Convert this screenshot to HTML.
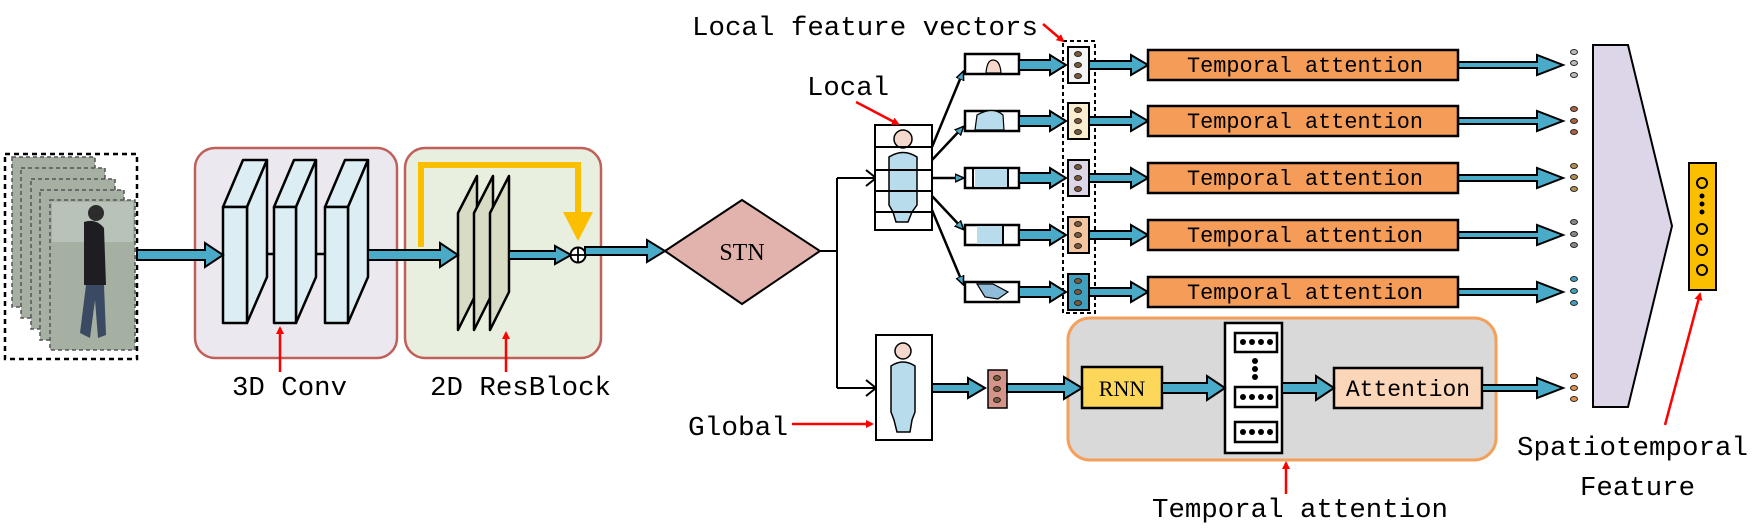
<!DOCTYPE html>
<html><head><meta charset="utf-8"><style>html,body{margin:0;padding:0;background:#fff}svg{display:block}</style></head>
<body>
<svg width="1762" height="530" viewBox="0 0 1762 530" xmlns="http://www.w3.org/2000/svg" font-family="'Liberation Mono', monospace">
<defs>
<marker id="ra" markerWidth="8" markerHeight="8" refX="6" refY="4" orient="auto" markerUnits="userSpaceOnUse"><path d="M0,0 L8,4 L0,8 z" fill="#f00"/></marker>
<marker id="ba" markerWidth="10" markerHeight="10" refX="8" refY="5" orient="auto" markerUnits="userSpaceOnUse"><path d="M0,1 L9,5 L0,9 z" fill="#4aabc8" stroke="#000" stroke-width="1.5"/></marker>
</defs>

<!-- input frames -->
<rect x="5" y="154" width="132" height="205" fill="#fff" stroke="#000" stroke-width="2.5" stroke-dasharray="5,4"/>
<g stroke="#555" stroke-width="1.5" stroke-dasharray="4,3" fill="#a5b0a2">
<rect x="12" y="157" width="83" height="150"/>
<rect x="21" y="168" width="84" height="150"/>
<rect x="31" y="179" width="84" height="150"/>
<rect x="40" y="190" width="84" height="150"/>
<rect x="50" y="200" width="85" height="150"/>
</g>
<rect x="52" y="202" width="81" height="40" fill="#b8c2b8"/>
<circle cx="96" cy="213" r="8" fill="#2c2c2c"/>
<path d="M84,222 Q96,218 104,228 L106,285 L84,285 Z" fill="#1e1e22"/>
<path d="M86,285 L104,285 L106,335 L98,338 L95,300 L90,338 L80,333 Z" fill="#3a4a62"/>

<!-- 3D conv -->
<rect x="195" y="148" width="202" height="210" rx="20" fill="#ece8f0" stroke="#c0605a" stroke-width="2.5"/>
<g stroke="#000" stroke-width="2.5" fill="#dcedf4" stroke-linejoin="round">
<line x1="247" y1="254" x2="274" y2="254"/><line x1="296" y1="254" x2="325" y2="254"/>
<polygon points="223,207 243,160 267,160 247,207"/><polygon points="247,207 267,160 267,277 247,323"/><rect x="223" y="207" width="24" height="116"/>
<polygon points="274,207 294,160 316,160 296,207"/><polygon points="296,207 316,160 316,277 296,323"/><rect x="274" y="207" width="22" height="116"/>
<polygon points="325,207 345,160 368,160 348,207"/><polygon points="348,207 368,160 368,277 348,323"/><rect x="325" y="207" width="23" height="116"/>
</g>

<!-- 2D resblock -->
<rect x="405" y="148" width="196" height="210" rx="20" fill="#e8efde" stroke="#c0605a" stroke-width="2.5"/>
<path d="M421,247 L421,165 L578,165 L578,215" fill="none" stroke="#fcbf00" stroke-width="6"/>
<polygon points="563,212 593,212 578,241" fill="#fcbf00"/>
<g stroke="#000" stroke-width="2.5" fill="#d8dcc4" stroke-linejoin="round">
<polygon points="458,330 458,213 477,176 477,292"/>
<polygon points="474,330 474,213 493,176 493,292"/>
<polygon points="490,330 490,213 509,176 509,292"/>
</g>
<circle cx="578" cy="255" r="7.5" fill="#fff" stroke="#000" stroke-width="2"/>
<line x1="578" y1="248" x2="578" y2="262" stroke="#000" stroke-width="1.8"/><line x1="571" y1="255" x2="585" y2="255" stroke="#000" stroke-width="1.8"/>

<!-- main blue arrows -->
<g fill="#4aabc8" stroke="#000" stroke-width="2" stroke-linejoin="miter">
<polygon points="137,250 205,250 205,243 223,255 205,267 205,260 137,260"/>
<polygon points="368,250 440,250 440,243 458,255 440,267 440,260 368,260"/>
<polygon points="509,251 555,251 555,246 571,255 555,264 555,259 509,259"/>
<polygon points="585,247 647,247 647,240 665,251 647,262 647,255 585,255"/>
</g>

<!-- STN -->
<polygon points="665,251 742,200 820,251 742,304" fill="#e2b2ad" stroke="#000" stroke-width="2"/>
<text x="742" y="260" font-family="'Liberation Serif', serif" font-size="24" text-anchor="middle">STN</text>
<g stroke="#000" stroke-width="2" fill="none">
<path d="M820,251 L837,251 M837,178 L837,388 M837,178 L875,178 M837,388 L875,388"/>
<path d="M866,170 L876,178 L866,186 M866,380 L876,388 L866,396"/>
</g>

<!-- local person box -->
<rect x="875" y="125" width="57" height="105" fill="#fff" stroke="#000" stroke-width="2"/>
<circle cx="903" cy="139" r="9" fill="#f5d8cc" stroke="#000" stroke-width="1.5"/>
<path d="M889,157 Q903,148 917,157 L917,205 L912,212 L908,222 L896,222 L893,212 L889,205 Z" fill="#b8dcec" stroke="#000" stroke-width="1.5"/>
<g stroke="#000" stroke-width="2"><line x1="875" y1="147" x2="932" y2="147"/><line x1="875" y1="170" x2="932" y2="170"/><line x1="875" y1="191" x2="932" y2="191"/><line x1="875" y1="212" x2="932" y2="212"/></g>

<!-- global person box -->
<rect x="876" y="335" width="56" height="105" fill="#fff" stroke="#000" stroke-width="2"/>
<circle cx="903" cy="351" r="8" fill="#f5d8cc" stroke="#000" stroke-width="1.5"/>
<path d="M891,366 Q903,358 915,366 L915,412 L912,420 L910,432 L897,432 L894,420 L891,412 Z" fill="#b8dcec" stroke="#000" stroke-width="1.5"/>

<!-- branch lines to parts -->
<g stroke="#000" stroke-width="2.5" marker-end="url(#ba)">
<line x1="932" y1="147" x2="963" y2="72"/>
<line x1="932" y1="160" x2="963" y2="127"/>
<line x1="932" y1="178" x2="963" y2="178"/>
<line x1="932" y1="196" x2="963" y2="229"/>
<line x1="932" y1="210" x2="963" y2="284"/>
</g>

<!-- part boxes -->
<g stroke="#000" stroke-width="2.5" fill="#fff">
<rect x="965" y="54" width="54" height="20"/><rect x="965" y="111" width="54" height="20"/><rect x="965" y="168" width="54" height="20"/><rect x="965" y="225" width="54" height="20"/><rect x="965" y="282" width="54" height="20"/>
</g>
<path d="M986,73 Q987,60 993,60 Q1000,60 1001,73 Z" fill="#f5d8cc" stroke="#000" stroke-width="1.2"/>
<path d="M975,130 L977,115 Q993,106 1003,115 L1004,130 Z" fill="#b8dcec" stroke="#000" stroke-width="1.2"/>
<rect x="975" y="169" width="32" height="18" fill="#b8dcec"/><line x1="973" y1="168" x2="973" y2="188" stroke="#000" stroke-width="2"/><line x1="1008" y1="168" x2="1008" y2="188" stroke="#000" stroke-width="2"/>
<rect x="977" y="226" width="25" height="18" fill="#b8dcec"/><line x1="1003" y1="225" x2="1003" y2="245" stroke="#000" stroke-width="2"/>
<path d="M977,284 L993,284 L1008,292 L998,299 L985,297 Z" fill="#8fbcd8" stroke="#000" stroke-width="1.2"/>

<!-- feature vectors -->
<rect x="1063" y="41" width="32" height="272" fill="none" stroke="#000" stroke-width="2" stroke-dasharray="4,3"/>
<g stroke="#000" stroke-width="2">
<rect x="1068" y="47" width="21" height="36" fill="#f4f4f4"/>
<rect x="1068" y="103" width="21" height="36" fill="#fbeed0"/>
<rect x="1068" y="160" width="21" height="36" fill="#dcd6e6"/>
<rect x="1068" y="217" width="21" height="36" fill="#f4c6a0"/>
<rect x="1068" y="274" width="21" height="36" fill="#3fa0bf"/>
</g>
<g fill="#7a5a3a" stroke="#222" stroke-width="1">
<ellipse cx="1078" cy="54" rx="3.5" ry="2.5"/><ellipse cx="1078" cy="65" rx="3.5" ry="2.5"/><ellipse cx="1078" cy="76" rx="3.5" ry="2.5"/>
<ellipse cx="1078" cy="110" rx="3.5" ry="2.5"/><ellipse cx="1078" cy="121" rx="3.5" ry="2.5"/><ellipse cx="1078" cy="132" rx="3.5" ry="2.5"/>
<ellipse cx="1078" cy="167" rx="3.5" ry="2.5"/><ellipse cx="1078" cy="178" rx="3.5" ry="2.5"/><ellipse cx="1078" cy="189" rx="3.5" ry="2.5"/>
<ellipse cx="1078" cy="224" rx="3.5" ry="2.5"/><ellipse cx="1078" cy="235" rx="3.5" ry="2.5"/><ellipse cx="1078" cy="246" rx="3.5" ry="2.5"/>
<ellipse cx="1078" cy="281" rx="3.5" ry="2.5"/><ellipse cx="1078" cy="292" rx="3.5" ry="2.5"/><ellipse cx="1078" cy="303" rx="3.5" ry="2.5"/>
</g>

<!-- row arrows -->
<g fill="#4aabc8" stroke="#000" stroke-width="2">
<polygon points="1019,60 1050,60 1050,55 1066,65 1050,75 1050,70 1019,70"/>
<polygon points="1019,116 1050,116 1050,111 1066,121 1050,131 1050,126 1019,126"/>
<polygon points="1019,173 1050,173 1050,168 1066,178 1050,188 1050,183 1019,183"/>
<polygon points="1019,230 1050,230 1050,225 1066,235 1050,245 1050,240 1019,240"/>
<polygon points="1019,287 1050,287 1050,282 1066,292 1050,302 1050,297 1019,297"/>
<polygon points="1089,61 1131,61 1131,55 1148,65 1131,75 1131,69 1089,69"/>
<polygon points="1089,117 1131,117 1131,111 1148,121 1131,131 1131,125 1089,125"/>
<polygon points="1089,174 1131,174 1131,168 1148,178 1131,188 1131,182 1089,182"/>
<polygon points="1089,231 1131,231 1131,225 1148,235 1131,245 1131,239 1089,239"/>
<polygon points="1089,288 1131,288 1131,282 1148,292 1131,302 1131,296 1089,296"/>
<polygon points="1458,62 1537,62 1537,55 1563,65 1537,75 1537,68 1458,68"/>
<polygon points="1458,118 1537,118 1537,111 1563,121 1537,131 1537,124 1458,124"/>
<polygon points="1458,175 1537,175 1537,168 1563,178 1537,188 1537,181 1458,181"/>
<polygon points="1458,232 1537,232 1537,225 1563,235 1537,245 1537,238 1458,238"/>
<polygon points="1458,289 1537,289 1537,282 1563,292 1537,302 1537,295 1458,295"/>
</g>

<!-- temporal attention boxes -->
<g fill="#f49c58" stroke="#000" stroke-width="2.5">
<rect x="1148" y="50" width="310" height="30"/><rect x="1148" y="106" width="310" height="30"/><rect x="1148" y="163" width="310" height="30"/><rect x="1148" y="220" width="310" height="30"/><rect x="1148" y="277" width="310" height="30"/>
</g>
<g font-size="22" text-anchor="start">
<text x="1187" y="72" textLength="236" lengthAdjust="spacingAndGlyphs">Temporal attention</text>
<text x="1187" y="128" textLength="236" lengthAdjust="spacingAndGlyphs">Temporal attention</text>
<text x="1187" y="185" textLength="236" lengthAdjust="spacingAndGlyphs">Temporal attention</text>
<text x="1187" y="242" textLength="236" lengthAdjust="spacingAndGlyphs">Temporal attention</text>
<text x="1187" y="299" textLength="236" lengthAdjust="spacingAndGlyphs">Temporal attention</text>
</g>

<!-- temporal attention module -->
<rect x="1068" y="318" width="428" height="142" rx="22" fill="#d9d9d9" stroke="#f4a05a" stroke-width="3"/>
<rect x="988" y="370" width="19" height="38" fill="#d4948a" stroke="#000" stroke-width="1.5"/>
<g fill="#7a5a3a" stroke="#222" stroke-width="1"><ellipse cx="997" cy="378" rx="3.5" ry="2.5"/><ellipse cx="997" cy="389" rx="3.5" ry="2.5"/><ellipse cx="997" cy="400" rx="3.5" ry="2.5"/></g>
<rect x="1082" y="367" width="80" height="41" fill="#fcd75a" stroke="#000" stroke-width="2.5"/>
<text x="1122" y="396" font-family="'Liberation Serif', serif" font-size="22" text-anchor="middle">RNN</text>
<rect x="1225" y="323" width="57" height="130" fill="#fff" stroke="#000" stroke-width="2.5"/>
<g fill="#fff" stroke="#000" stroke-width="2.5"><rect x="1235" y="333" width="42" height="19"/><rect x="1235" y="387" width="42" height="20"/><rect x="1235" y="422" width="42" height="20"/></g>
<g fill="#000">
<circle cx="1243" cy="342" r="3"/><circle cx="1252" cy="342" r="3"/><circle cx="1261" cy="342" r="3"/><circle cx="1270" cy="342" r="3"/>
<circle cx="1243" cy="397" r="3"/><circle cx="1252" cy="397" r="3"/><circle cx="1261" cy="397" r="3"/><circle cx="1270" cy="397" r="3"/>
<circle cx="1243" cy="432" r="3"/><circle cx="1252" cy="432" r="3"/><circle cx="1261" cy="432" r="3"/><circle cx="1270" cy="432" r="3"/>
<circle cx="1255" cy="361" r="3"/><circle cx="1255" cy="369" r="3"/><circle cx="1255" cy="377" r="3"/>
</g>
<rect x="1334" y="368" width="148" height="40" fill="#fbd6b8" stroke="#000" stroke-width="2.5"/>
<text x="1408" y="396" font-size="23" text-anchor="middle">Attention</text>
<g fill="#4aabc8" stroke="#000" stroke-width="2">
<polygon points="932,384 968,384 968,378 985,388 968,398 968,392 932,392"/>
<polygon points="1007,384 1064,384 1064,377 1082,388 1064,399 1064,392 1007,392"/>
<polygon points="1162,383 1207,383 1207,376 1225,388 1207,400 1207,393 1162,393"/>
<polygon points="1282,383 1316,383 1316,376 1334,388 1316,400 1316,393 1282,393"/>
<polygon points="1482,385 1537,385 1537,378 1563,388 1537,398 1537,391 1482,391"/>
</g>

<!-- output dots -->
<g stroke="#222" stroke-width="1">
<g fill="#bbb"><ellipse cx="1574" cy="52" rx="3.5" ry="2.5"/><ellipse cx="1574" cy="63" rx="3.5" ry="2.5"/><ellipse cx="1574" cy="75" rx="3.5" ry="2.5"/></g>
<g fill="#b06040"><ellipse cx="1574" cy="109" rx="3.5" ry="2.5"/><ellipse cx="1574" cy="121" rx="3.5" ry="2.5"/><ellipse cx="1574" cy="132" rx="3.5" ry="2.5"/></g>
<g fill="#b09050"><ellipse cx="1574" cy="166" rx="3.5" ry="2.5"/><ellipse cx="1574" cy="177" rx="3.5" ry="2.5"/><ellipse cx="1574" cy="189" rx="3.5" ry="2.5"/></g>
<g fill="#888"><ellipse cx="1574" cy="222" rx="3.5" ry="2.5"/><ellipse cx="1574" cy="234" rx="3.5" ry="2.5"/><ellipse cx="1574" cy="245" rx="3.5" ry="2.5"/></g>
<g fill="#3fa0bf"><ellipse cx="1574" cy="279" rx="3.5" ry="2.5"/><ellipse cx="1574" cy="291" rx="3.5" ry="2.5"/><ellipse cx="1574" cy="303" rx="3.5" ry="2.5"/></g>
<g fill="#e0904a"><ellipse cx="1574" cy="376" rx="3.5" ry="2.5"/><ellipse cx="1574" cy="388" rx="3.5" ry="2.5"/><ellipse cx="1574" cy="399" rx="3.5" ry="2.5"/></g>
</g>

<!-- trapezoid and final vector -->
<polygon points="1593,45 1628,45 1672,226 1628,407 1593,407" fill="#dcd6e8" stroke="#000" stroke-width="2"/>
<rect x="1689" y="163" width="27" height="127" fill="#fcbf00" stroke="#000" stroke-width="2"/>
<g fill="none" stroke="#000" stroke-width="2"><circle cx="1702" cy="183" r="5"/><circle cx="1702" cy="229" r="5"/><circle cx="1702" cy="250" r="5"/><circle cx="1702" cy="270" r="5"/></g>
<g fill="#000"><circle cx="1702" cy="196" r="2.5"/><circle cx="1702" cy="204" r="2.5"/><circle cx="1702" cy="212" r="2.5"/></g>

<!-- red arrows -->
<g stroke="#f00" stroke-width="2.5" marker-end="url(#ra)">
<line x1="280" y1="372" x2="280" y2="328"/>
<line x1="506" y1="372" x2="506" y2="333"/>
<line x1="792" y1="424" x2="872" y2="424"/>
<line x1="856" y1="102" x2="898" y2="124"/>
<line x1="1043" y1="24" x2="1063" y2="41"/>
<line x1="1286" y1="494" x2="1286" y2="463"/>
<line x1="1665" y1="425" x2="1700" y2="294"/>
</g>

<!-- labels -->
<g font-size="27" fill="#000">
<text x="232" y="395" textLength="115" lengthAdjust="spacingAndGlyphs">3D Conv</text>
<text x="430" y="395" textLength="181" lengthAdjust="spacingAndGlyphs">2D ResBlock</text>
<text x="688" y="435" textLength="100" lengthAdjust="spacingAndGlyphs">Global</text>
<text x="807" y="95" textLength="82" lengthAdjust="spacingAndGlyphs">Local</text>
<text x="692" y="35" textLength="346" lengthAdjust="spacingAndGlyphs">Local feature vectors</text>
<text x="1152" y="517" textLength="296" lengthAdjust="spacingAndGlyphs">Temporal attention</text>
<text x="1517" y="455" textLength="231" lengthAdjust="spacingAndGlyphs">Spatiotemporal</text>
<text x="1580" y="495" textLength="115" lengthAdjust="spacingAndGlyphs">Feature</text>
</g>
</svg>
</body></html>
